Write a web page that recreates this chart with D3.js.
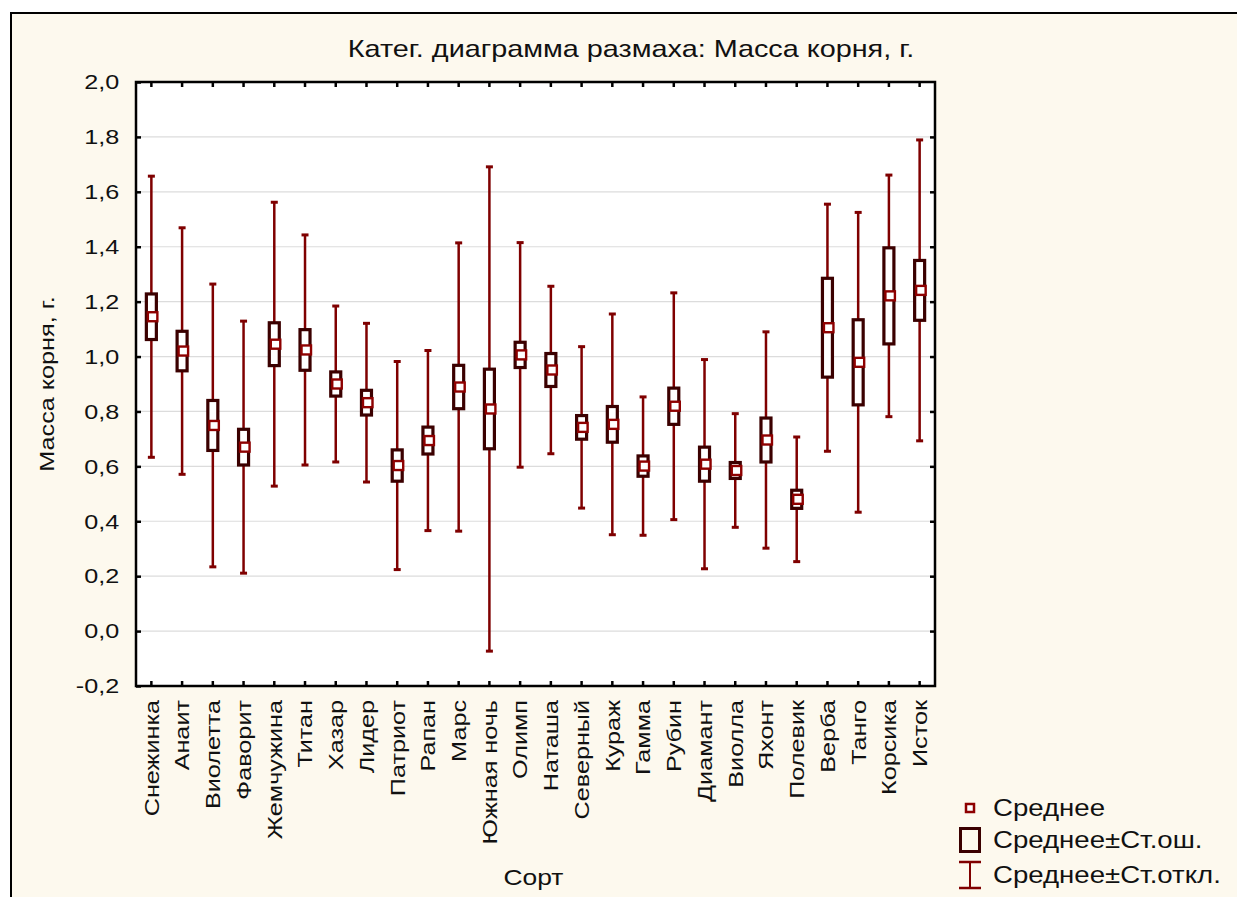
<!DOCTYPE html>
<html>
<head>
<meta charset="utf-8">
<script src="https://cdn.jsdelivr.net/npm/d3@7"></script>
<style>
  html, body { margin: 0; padding: 0; background: #fff; }
  text { font-family: "Liberation Sans", Arial, sans-serif; fill: #111; }
</style>
</head>
<body>
<div id="chart"></div>
<script>
// Categories (sorts) and values
const sorts = ['Снежинка', 'Анаит', 'Виолетта', 'Фаворит', 'Жемчужина', 'Титан', 'Хазар', 'Лидер',
  'Патриот', 'Рапан', 'Марс', 'Южная ночь', 'Олимп', 'Наташа', 'Северный', 'Кураж', 'Гамма',
  'Рубин', 'Диамант', 'Виолла', 'Яхонт', 'Полевик', 'Верба', 'Танго', 'Корсика', 'Исток'];

const means = [1.145, 1.020, 0.749, 0.670, 1.045, 1.024, 0.900, 0.832, 0.603, 0.694, 0.889, 0.809, 1.006,
  0.951, 0.742, 0.753, 0.601, 0.819, 0.608, 0.585, 0.696, 0.480, 1.105, 0.979, 1.221, 1.241];

// standard error (box half-height)
const stdErr = [0.083, 0.072, 0.091, 0.065, 0.078, 0.074, 0.044, 0.045, 0.057, 0.049, 0.079, 0.145, 0.046,
  0.060, 0.043, 0.065, 0.037, 0.066, 0.062, 0.029, 0.080, 0.033, 0.180, 0.155, 0.175, 0.109];

// standard deviation (whisker half-length)
const stdDev = [0.512, 0.449, 0.515, 0.459, 0.517, 0.419, 0.284, 0.289, 0.379, 0.328, 0.525, 0.882, 0.409,
  0.305, 0.294, 0.402, 0.252, 0.413, 0.381, 0.207, 0.394, 0.227, 0.450, 0.546, 0.440, 0.548];

const yTicks = [-0.2, 0, 0.2, 0.4, 0.6, 0.8, 1.0, 1.2, 1.4, 1.6, 1.8, 2.0];

const legendItems = ['Среднее', 'Среднее±Ст.ош.', 'Среднее±Ст.откл.'];

const W = 1237, H = 897;
const plot = { left: 136, top: 82, right: 935, bottom: 686 };
const SX = 1.2; // text in the reference is drawn wide

const colors = {
  frame: '#fdf9ee',
  whisker: '#7f0000',
  box: '#3b0000',
  mean: '#8e0000',
  grid: '#dcdcdc'
};

const rows = sorts.map((s, i) => ({ sort: s, mean: means[i], se: stdErr[i], sd: stdDev[i] }));

const svg = d3.select('#chart').append('svg')
  .attr('width', W)
  .attr('height', H);

// outer frame (only top and left edges visible in the picture)
svg.append('rect')
  .attr('x', 11).attr('y', 13)
  .attr('width', W + 10).attr('height', H + 10)
  .attr('fill', colors.frame)
  .attr('stroke', '#000')
  .attr('stroke-width', 2);

const x = d3.scaleBand()
  .domain(sorts)
  .range([plot.left, plot.right]);

const y = d3.scaleLinear()
  .domain([-0.2, 2.0])
  .range([plot.bottom, plot.top]);

const fmt = v => v.toFixed(1).replace('.', ',');

// plot background
svg.append('rect')
  .attr('x', plot.left).attr('y', plot.top)
  .attr('width', plot.right - plot.left).attr('height', plot.bottom - plot.top)
  .attr('fill', '#fff');

// grid
svg.append('g')
  .selectAll('line')
  .data(yTicks.slice(1, -1))
  .join('line')
  .attr('x1', plot.left).attr('x2', plot.right)
  .attr('y1', d => y(d)).attr('y2', d => y(d))
  .attr('stroke', colors.grid)
  .attr('stroke-width', 1.2);

// whiskers (mean ± sd)
const cx = d => x(d.sort) + x.bandwidth() / 2;
const marks = svg.append('g');

marks.selectAll('line.wh')
  .data(rows)
  .join('line')
  .attr('class', 'wh')
  .attr('x1', cx).attr('x2', cx)
  .attr('y1', d => y(d.mean + d.sd))
  .attr('y2', d => y(d.mean - d.sd))
  .attr('stroke', colors.whisker)
  .attr('stroke-width', 2.5);

['top', 'bot'].forEach(k => {
  marks.selectAll('line.cap-' + k)
    .data(rows)
    .join('line')
    .attr('class', 'cap-' + k)
    .attr('x1', d => cx(d) - 3.5).attr('x2', d => cx(d) + 3.5)
    .attr('y1', d => y(k === 'top' ? d.mean + d.sd : d.mean - d.sd))
    .attr('y2', d => y(k === 'top' ? d.mean + d.sd : d.mean - d.sd))
    .attr('stroke', colors.whisker)
    .attr('stroke-width', 3);
});

// boxes (mean ± se)
marks.selectAll('rect.box')
  .data(rows)
  .join('rect')
  .attr('class', 'box')
  .attr('x', d => cx(d) - 5)
  .attr('width', 10)
  .attr('y', d => y(d.mean + d.se))
  .attr('height', d => y(d.mean - d.se) - y(d.mean + d.se))
  .attr('fill', '#fff')
  .attr('stroke', colors.box)
  .attr('stroke-width', 3.2);

// mean markers, drawn a little to the right like the reference
marks.selectAll('rect.mean')
  .data(rows)
  .join('rect')
  .attr('class', 'mean')
  .attr('x', d => cx(d) - 3.5)
  .attr('y', d => y(d.mean) - 4.5)
  .attr('width', 9.5).attr('height', 9)
  .attr('fill', '#fff')
  .attr('stroke', colors.mean)
  .attr('stroke-width', 2.4);

// axes: ticks pointing inward on all four sides
const axisStyle = g => {
  g.select('.domain').remove();
  g.selectAll('.tick line').attr('stroke', '#000').attr('stroke-width', 2.5);
};

svg.append('g')
  .attr('transform', `translate(${plot.left},0)`)
  .call(d3.axisLeft(y).tickValues(yTicks).tickFormat(fmt).tickSizeInner(-5).tickSizeOuter(0).tickPadding(14))
  .call(axisStyle)
  .call(g => g.selectAll('text')
    .attr('font-size', 21)
    .attr('font-family', '"Liberation Sans", Arial, sans-serif')
    .attr('fill', '#111')
    .attr('transform', `scale(${SX},1)`));

svg.append('g')
  .attr('transform', `translate(${plot.right},0)`)
  .call(d3.axisRight(y).tickValues(yTicks.slice(1, -1)).tickFormat('').tickSizeInner(-5).tickSizeOuter(0))
  .call(axisStyle);

svg.append('g')
  .attr('transform', `translate(0,${plot.top})`)
  .call(d3.axisTop(x).tickFormat('').tickSizeInner(-5).tickSizeOuter(0))
  .call(axisStyle);

svg.append('g')
  .attr('transform', `translate(0,${plot.bottom})`)
  .call(d3.axisBottom(x).tickSizeInner(-5).tickSizeOuter(0).tickPadding(0))
  .call(axisStyle)
  .call(g => g.selectAll('text')
    .attr('font-size', 21)
    .attr('font-family', '"Liberation Sans", Arial, sans-serif')
    .attr('fill', '#111')
    .attr('text-anchor', 'end')
    .attr('y', 0)
    .attr('dy', '0.35em')
    .attr('transform', `translate(0,14) rotate(-90) scale(${SX},1)`));

// plot frame
svg.append('rect')
  .attr('x', plot.left).attr('y', plot.top)
  .attr('width', plot.right - plot.left).attr('height', plot.bottom - plot.top)
  .attr('fill', 'none')
  .attr('stroke', '#000')
  .attr('stroke-width', 2.5);

// titles
svg.append('text')
  .attr('transform', `translate(631,57) scale(${SX},1)`)
  .attr('text-anchor', 'middle')
  .attr('font-size', 24)
  .text('Катег. диаграмма размаха: Масса корня, г.');

svg.append('text')
  .attr('transform', `translate(54,${(plot.top + plot.bottom) / 2}) rotate(-90) scale(${SX},1)`)
  .attr('text-anchor', 'middle')
  .attr('font-size', 21)
  .text('Масса корня, г.');

svg.append('text')
  .attr('transform', `translate(${(plot.left + plot.right) / 2 - 2},885) scale(${SX},1)`)
  .attr('text-anchor', 'middle')
  .attr('font-size', 22)
  .text('Сорт');

// legend
const lg = svg.append('g').attr('transform', 'translate(970,0)');
const rowY = [808, 840, 875];

lg.append('rect')
  .attr('x', -4).attr('y', rowY[0] - 4)
  .attr('width', 8).attr('height', 8)
  .attr('fill', '#fff')
  .attr('stroke', colors.mean)
  .attr('stroke-width', 2.5);

lg.append('rect')
  .attr('x', -9.5).attr('y', rowY[1] - 11.5)
  .attr('width', 19).attr('height', 23)
  .attr('fill', 'none')
  .attr('stroke', colors.box)
  .attr('stroke-width', 3);

lg.append('line')
  .attr('x1', 0).attr('x2', 0)
  .attr('y1', rowY[2] - 13).attr('y2', rowY[2] + 13)
  .attr('stroke', colors.whisker).attr('stroke-width', 2);
[-13, 13].forEach(o => lg.append('line')
  .attr('x1', -11).attr('x2', 11)
  .attr('y1', rowY[2] + o).attr('y2', rowY[2] + o)
  .attr('stroke', colors.whisker).attr('stroke-width', 2.5));

lg.selectAll('text.lab')
  .data(legendItems)
  .join('text')
  .attr('class', 'lab')
  .attr('transform', (d, i) => `translate(23,${rowY[i] + 8}) scale(${SX},1)`)
  .attr('font-size', 23)
  .text(d => d);
</script>
</body>
</html>
